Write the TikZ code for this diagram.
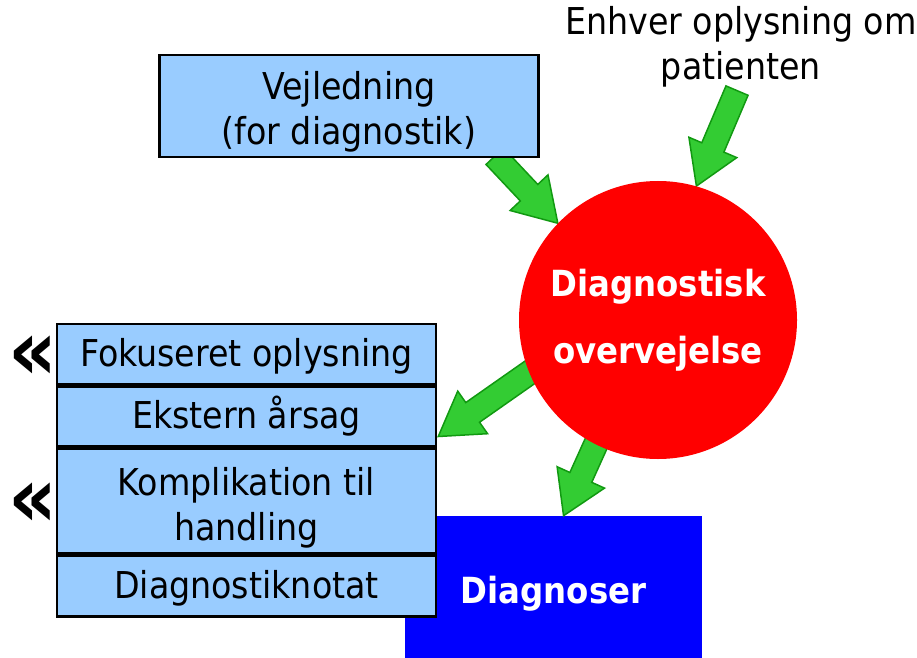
\documentclass[tikz,border=0pt]{standalone}
\usepackage{fontspec}
\setmainfont{DejaVu Sans Condensed}
\usetikzlibrary{positioning,calc,backgrounds}
\definecolor{boxblue}{HTML}{99CCFF}
\definecolor{arrowgreen}{HTML}{33CC33}
\definecolor{arrowedge}{HTML}{119911}

\tikzset{
  infobox/.style={draw, line width=2.5pt, fill=boxblue, minimum width=379pt,
    align=center, inner sep=0pt, font=\fontsize{37}{45}\selectfont,
    text height=30pt, text depth=6pt},
  twoline/.style={text height=84pt, text depth=6pt},
  fatarrow/.style={fill=arrowgreen, draw=arrowedge, line width=1.5pt, line join=miter},
  chevron/.style={font=\fontsize{84}{84}\selectfont\bfseries, inner sep=0pt, yshift=-4pt}
}

% block arrow from #1 to #2
\newcommand{\fatarrow}[2]{%
  \path[fatarrow] let \p1=($(#2)-(#1)$), \n1={atan2(\y1,\x1)}, \n2={veclen(\x1,\y1)} in
    [shift={(#1)}, rotate=\n1] (0,-12) -- (\n2-42,-12) -- (\n2-42,-26) -- (\n2,0)
    -- (\n2-42,26) -- (\n2-42,12) -- (0,12) -- cycle;}

\begin{document}
\begin{tikzpicture}[x=1pt,y=1pt]
\path[use as bounding box] (0,0) rectangle (917,657);

\node [infobox, twoline, minimum height=102pt] (vej) at (349,551) {Vejledning\\(for diagnostik)};
\node [align=center, inner sep=0pt, font=\fontsize{37}{45}\selectfont] (info) at (741,610) {Enhver oplysning om\\patienten};
\node [circle, fill=red, minimum size=278pt, inner sep=0pt, align=center, text=white,
  font=\fontsize{36}{67}\selectfont\bfseries] (circ) at (658,337) {Diagnostisk\\overvejelse};

% the stack
\node [infobox, minimum height=60pt] (fok) at (246.5,303) {Fokuseret oplysning};
\node [infobox, minimum height=60pt, below=0pt of fok] (eks) {Ekstern årsag};
\node [infobox, twoline, minimum height=104pt, below=0pt of eks] (kom) {Komplikation til\\handling};
\node [infobox, minimum height=61pt, below=0pt of kom] (dia) {Diagnostiknotat};
\node [chevron, left=-2pt of fok] (mark1) {«};
\node [chevron, left=-2pt of kom] (mark2) {«};

\begin{pgfonlayer}{background}
\node [fill=blue, minimum width=297pt, minimum height=144pt, inner sep=0pt, text=white,
  text height=36pt, text depth=5pt,
  font=\fontsize{36}{40}\selectfont\bfseries] (diag) at (553.5,69) {Diagnoser};
\coordinate (t1) at ($(vej.south east)+(-45,2)$);
\coordinate (t2) at ($(info.south)+(-4,-3)$);
\coordinate (t3) at ($(circ.center)!0.85!(circ.200)$);
\coordinate (t4) at ($(circ.center)!0.85!(circ.243)$);
\coordinate (h3) at ($(eks.east)+(1,-20)$);
\coordinate (h4) at ($(diag.north)+(10,0)$);
\fatarrow{t1}{circ.136}
\fatarrow{t2}{circ.74}
\fatarrow{t3}{h3}
\fatarrow{t4}{h4}
\end{pgfonlayer}
\end{tikzpicture}
\end{document}
